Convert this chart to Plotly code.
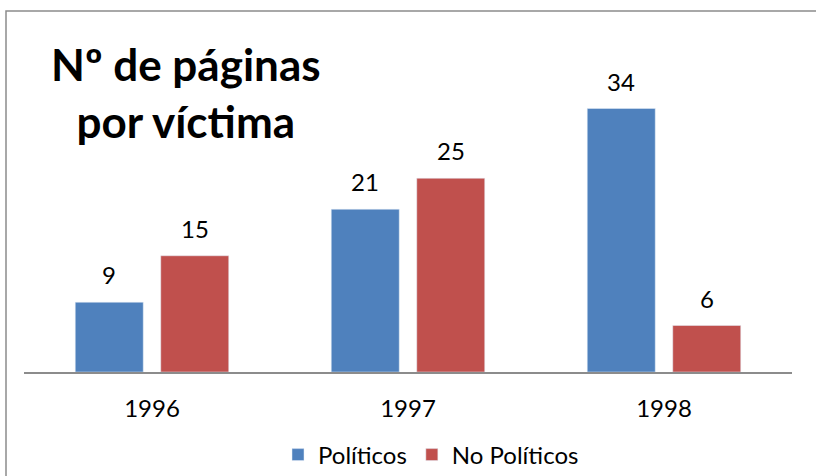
import plotly.graph_objects as go

years = ["1996", "1997", "1998"]
politicos = [9, 21, 34]
no_politicos = [15, 25, 6]
series_names = ["Políticos", "No Políticos"]
title_text = "Nº de páginas<br>por víctima"

BLUE = "#4F81BD"
RED = "#C0504D"
FONT = "Lato"

W, H = 816, 476
ML, MR, MT, MB = 24, 24, 62, 104
PW = W - ML - MR
PH = H - MT - MB


def px_to_paper_x(px):
    return (px - ML) / PW


def px_to_paper_y(py):
    return (H - MB - py) / PH


fig = go.Figure()
fig.add_trace(go.Bar(name=series_names[0], x=years, y=politicos, marker_color=BLUE))
fig.add_trace(go.Bar(name=series_names[1], x=years, y=no_politicos, marker_color=RED))

bargap = 0.332
slot_px = PW / len(years) * (1 - bargap) / 2

annotations = []
for vals, shift in ((politicos, -slot_px / 2), (no_politicos, slot_px / 2)):
    for i, v in enumerate(vals):
        annotations.append(dict(
            x=i, y=v, xref="x", yref="y", text=str(v), showarrow=False,
            xshift=shift, yanchor="bottom", yshift=11,
            font=dict(family=FONT, size=24, color="#000000"),
        ))

annotations.append(dict(
    x=px_to_paper_x(186), y=px_to_paper_y(92), xref="paper", yref="paper",
    text="<b>" + title_text + "</b>", showarrow=False,
    xanchor="center", yanchor="middle", align="center",
    font=dict(family=FONT, size=44, color="#000000"),
))

fig.update_layout(
    width=W, height=H,
    margin=dict(l=ML, r=MR, t=MT, b=MB, autoexpand=False),
    paper_bgcolor="white", plot_bgcolor="white",
    barmode="group", bargap=bargap, bargroupgap=0.205,
    font=dict(family=FONT, size=24, color="#000000"),
    showlegend=True,
    legend=dict(
        orientation="h", x=px_to_paper_x(431), xanchor="center",
        y=px_to_paper_y(455), yanchor="middle",
        font=dict(family=FONT, size=24, color="#000000"),
    ),
    annotations=annotations,
    shapes=[dict(
        type="rect", xref="paper", yref="paper",
        x0=px_to_paper_x(6), x1=px_to_paper_x(840),
        y0=px_to_paper_y(11), y1=px_to_paper_y(520),
        line=dict(color="#8c8c8c", width=1.5), fillcolor="rgba(0,0,0,0)",
        layer="below",
    )],
)

fig.update_xaxes(
    type="category", range=[-0.5, len(years) - 0.5], autorange=False,
    showline=True, linecolor="#8c8c8c", linewidth=1.5,
    ticks="outside", ticklen=14, tickcolor="rgba(0,0,0,0)",
    showgrid=False, zeroline=False,
    tickfont=dict(family=FONT, size=24, color="#000000"),
)
fig.update_yaxes(
    range=[0, 40], autorange=False, showticklabels=False, showgrid=False,
    zeroline=False, showline=False,
)

fig.write_html("out.html", config={"displayModeBar": False})

with open("out.html", "r", encoding="utf-8") as f:
    html = f.read()
html = html.replace("<head>", "<head><style>html,body{margin:0;padding:0;overflow:hidden;}</style>", 1)
with open("out.html", "w", encoding="utf-8") as f:
    f.write(html)
